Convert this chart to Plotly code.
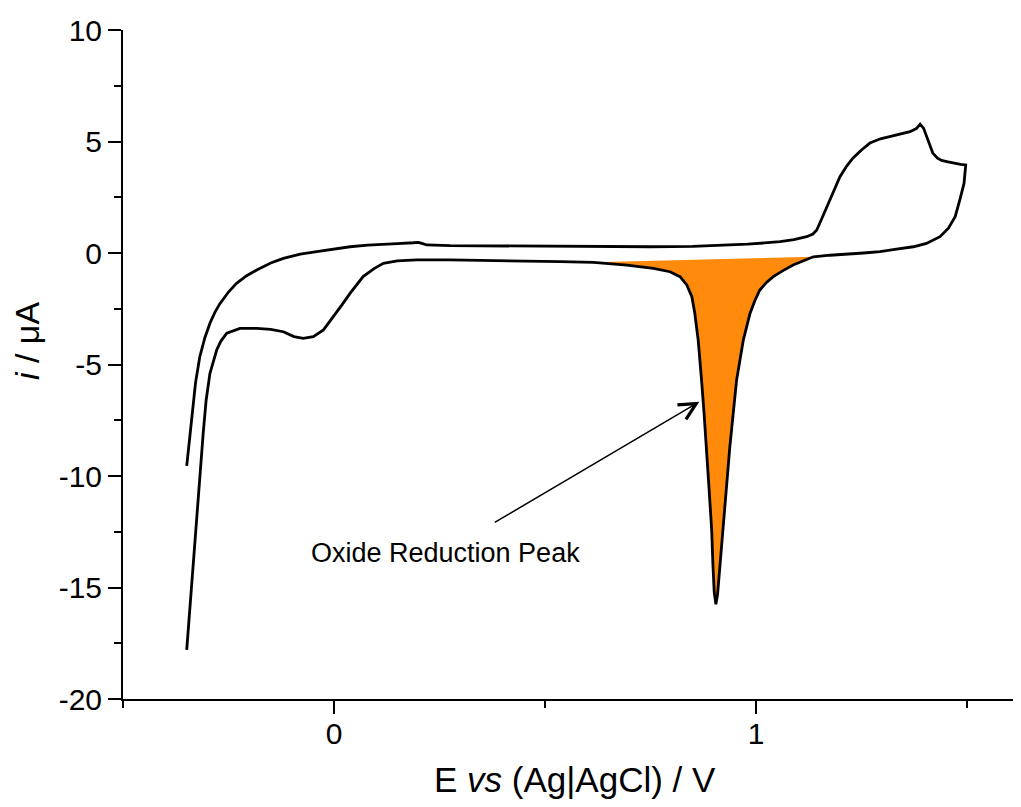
import plotly.graph_objects as go

# Anodic (forward) scan: potential (V) and current (µA)
fwd_E = [-0.349, -0.343, -0.337, -0.328, -0.318, -0.306, -0.294, -0.282, -0.270, -0.250,
         -0.231, -0.207, -0.183, -0.150, -0.120, -0.080, -0.041, 0.000, 0.038, 0.080,
         0.117, 0.150, 0.188, 0.200, 0.210, 0.220, 0.275, 0.35, 0.45, 0.55,
         0.65, 0.75, 0.85, 0.93, 0.98, 1.02, 1.057, 1.09, 1.12, 1.135,
         1.144, 1.155, 1.165, 1.175, 1.187, 1.199, 1.215, 1.230, 1.250, 1.270,
         1.295, 1.325, 1.345, 1.365, 1.380, 1.389, 1.397, 1.404, 1.412, 1.419,
         1.430, 1.440, 1.452, 1.470, 1.485, 1.497]
fwd_i = [-9.55, -8.4, -7.19, -5.8, -4.65, -3.8, -3.15, -2.65, -2.26, -1.75,
         -1.36, -1.02, -0.76, -0.45, -0.24, -0.05, 0.06, 0.17, 0.28, 0.35,
         0.40, 0.42, 0.46, 0.48, 0.42, 0.36, 0.33, 0.32, 0.31, 0.30,
         0.28, 0.28, 0.30, 0.35, 0.40, 0.45, 0.51, 0.60, 0.73, 0.85,
         1.03, 1.5, 1.95, 2.38, 2.9, 3.42, 3.9, 4.26, 4.62, 4.93,
         5.12, 5.25, 5.33, 5.44, 5.58, 5.78, 5.6, 5.22, 4.8, 4.48,
         4.25, 4.15, 4.10, 4.02, 3.97, 3.95]

# Cathodic (reverse) scan
rev_E = [1.493, 1.483, 1.472, 1.456, 1.436, 1.404, 1.373, 1.333, 1.294, 1.255,
         1.215, 1.175, 1.136, 1.110, 1.088, 1.065, 1.041, 1.025, 1.009, 0.997,
         0.986, 0.970, 0.954, 0.938, 0.9225, 0.914, 0.909, 0.905, 0.901, 0.898,
         0.895, 0.889, 0.883, 0.877, 0.871, 0.863, 0.855, 0.848, 0.836, 0.820,
         0.796, 0.757, 0.694, 0.615, 0.536, 0.45, 0.35, 0.275, 0.196, 0.150,
         0.117, 0.095, 0.069, 0.038, 0.018, -0.002, -0.025, -0.049, -0.073, -0.095,
         -0.120, -0.150, -0.183, -0.223, -0.254, -0.268, -0.278, -0.294, -0.303, -0.310,
         -0.325, -0.337, -0.349]
rev_i = [3.12, 2.38, 1.63, 1.11, 0.73, 0.43, 0.28, 0.17, 0.06, 0.0,
         -0.04, -0.10, -0.17, -0.36, -0.54, -0.78, -1.06, -1.32, -1.66, -2.15,
         -2.70, -3.90, -5.70, -8.69, -12.42, -14.3, -15.3, -15.75, -15.2, -14.0,
         -12.42, -10.63, -8.69, -7.19, -5.70, -3.90, -2.70, -1.96, -1.43, -1.06,
         -0.84, -0.69, -0.54, -0.42, -0.39, -0.36, -0.33, -0.31, -0.31, -0.35,
         -0.46, -0.70, -1.06, -1.81, -2.35, -2.86, -3.45, -3.75, -3.83, -3.75,
         -3.53, -3.42, -3.38, -3.38, -3.6, -3.95, -4.35, -5.4, -6.6, -8.09,
         -11.8, -14.8, -17.8]

# Integration window for the oxide reduction peak
peak_lo, peak_hi = 0.6, 1.14

x_ticks = [0, 1]
x_ticktext = ["0", "1"]
y_ticks = [-20, -15, -10, -5, 0, 5, 10]
y_ticktext = ["-20", "-15", "-10", "-5", "0", "5", "10"]

annot_text = "Oxide Reduction Peak"

fill_E = [e for e in rev_E if peak_lo <= e <= peak_hi]
fill_i = [c for e, c in zip(rev_E, rev_i) if peak_lo <= e <= peak_hi]

FONT = "Liberation Sans, Arial, sans-serif"

fig = go.Figure()
fig.add_trace(go.Scatter(
    x=fill_E, y=fill_i, mode="lines", fill="toself",
    fillcolor="#FF8A0C", line=dict(width=0), hoverinfo="skip", showlegend=False))
fig.add_trace(go.Scatter(
    x=fwd_E + rev_E, y=fwd_i + rev_i, mode="lines",
    line=dict(color="black", width=2.8), showlegend=False))

fig.update_layout(
    width=1013, height=799, autosize=False,
    margin=dict(l=115, r=0, t=22, b=108),
    plot_bgcolor="white", paper_bgcolor="white",
    font=dict(family=FONT, color="black"),
    xaxis=dict(range=[-0.5, 1.628], showgrid=False, zeroline=False,
               showline=True, linecolor="black", linewidth=2,
               ticks="outside", ticklen=13, tickwidth=2, tickcolor="black",
               tickvals=x_ticks, ticktext=x_ticktext, ticklabelstandoff=-6,
               tickfont=dict(size=30, family=FONT),
               minor=dict(tickvals=[-0.5, 0.5, 1.5], ticks="outside",
                          ticklen=7, tickwidth=2, tickcolor="black")),
    yaxis=dict(range=[-20, 10], showgrid=False, zeroline=False,
               showline=True, linecolor="black", linewidth=2,
               ticks="outside", ticklen=13, tickwidth=2, tickcolor="black",
               tickvals=y_ticks, ticktext=y_ticktext,
               tickfont=dict(size=30, family=FONT),
               minor=dict(dtick=2.5, tick0=0, ticks="outside",
                          ticklen=7, tickwidth=2, tickcolor="black")),
)

# Axis titles
fig.add_annotation(xref="paper", yref="paper", x=0.503, y=0, yshift=-80,
                   xanchor="center", yanchor="middle", showarrow=False,
                   text="E <i>vs</i> (Ag|AgCl) / V", font=dict(size=35, family=FONT))
fig.add_annotation(xref="paper", yref="paper", x=0, xshift=-96, y=0.535,
                   xanchor="center", yanchor="middle", showarrow=False, textangle=-90,
                   text="<i>i</i> / μA", font=dict(size=34, family=FONT))

# Peak label and arrow
fig.add_annotation(x=0.8657, y=-6.67, ax=0.3775, ay=-12.12, xref="x", yref="y",
                   axref="x", ayref="y", text="", showarrow=True,
                   arrowhead=5, arrowsize=2.2, arrowwidth=1.5, arrowcolor="black")
fig.add_annotation(x=0.264, y=-13.45, xref="x", yref="y", showarrow=False,
                   text=annot_text, font=dict(size=27, family=FONT),
                   xanchor="center", yanchor="middle")

fig.write_html("out.html")
